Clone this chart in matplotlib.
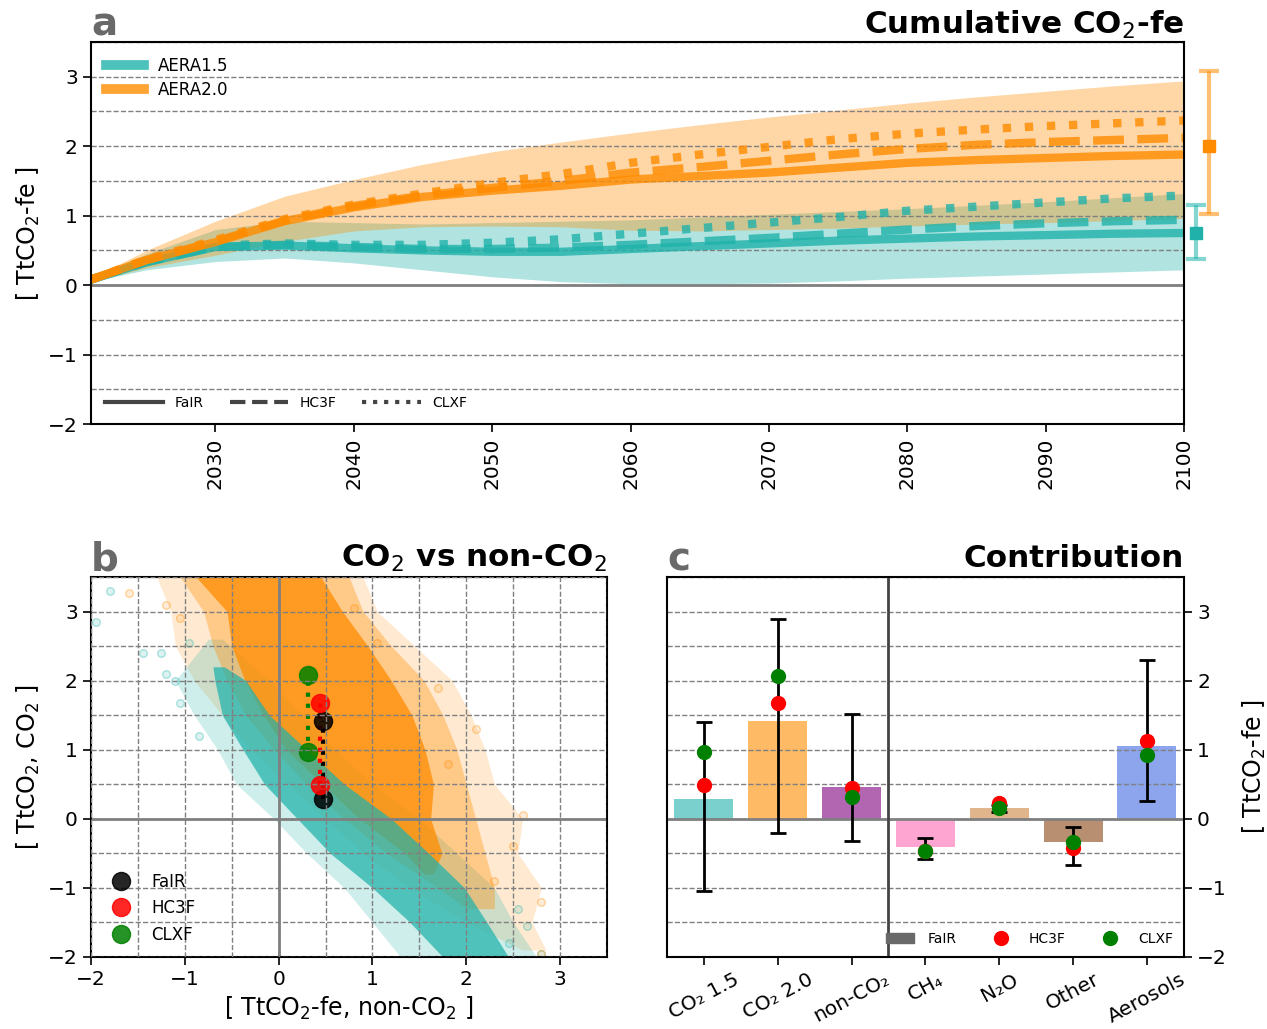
import numpy as np
import matplotlib
matplotlib.use("Agg")
import matplotlib.pyplot as plt
from matplotlib.lines import Line2D
from matplotlib.patches import Patch

# ---------------- data: panel a ----------------
years = [2021, 2025, 2030, 2035, 2040, 2045, 2050, 2055, 2060, 2065, 2070,
         2075, 2080, 2085, 2090, 2095, 2100]
a15_fair = [0.08, 0.33, 0.55, 0.57, 0.53, 0.50, 0.48, 0.48, 0.52, 0.56, 0.60,
            0.64, 0.67, 0.70, 0.72, 0.74, 0.75]
a15_hc3f = [0.08, 0.33, 0.55, 0.58, 0.55, 0.52, 0.52, 0.54, 0.58, 0.63, 0.68,
            0.74, 0.80, 0.85, 0.89, 0.92, 0.94]
a15_clxf = [0.08, 0.34, 0.57, 0.60, 0.58, 0.58, 0.61, 0.66, 0.74, 0.82, 0.90,
            0.98, 1.07, 1.13, 1.19, 1.25, 1.29]
a20_fair = [0.08, 0.36, 0.62, 0.92, 1.12, 1.27, 1.36, 1.43, 1.52, 1.57, 1.62,
            1.69, 1.76, 1.80, 1.83, 1.86, 1.88]
a20_hc3f = [0.08, 0.36, 0.63, 0.93, 1.14, 1.29, 1.40, 1.50, 1.62, 1.70, 1.79,
            1.88, 1.96, 2.02, 2.06, 2.09, 2.12]
a20_clxf = [0.08, 0.37, 0.65, 0.95, 1.16, 1.32, 1.47, 1.60, 1.76, 1.88, 1.99,
            2.10, 2.18, 2.24, 2.29, 2.33, 2.37]
a15_lo = [0.05, 0.22, 0.34, 0.39, 0.32, 0.22, 0.12, 0.05, 0.02, 0.02, 0.03,
          0.06, 0.10, 0.13, 0.16, 0.19, 0.22]
a15_hi = [0.10, 0.45, 0.80, 0.92, 0.90, 0.88, 0.90, 0.92, 0.94, 0.98, 1.02,
          1.06, 1.10, 1.15, 1.20, 1.26, 1.32]
a20_lo = [0.05, 0.25, 0.43, 0.63, 0.78, 0.84, 0.85, 0.84, 0.79, 0.78, 0.80,
          0.82, 0.85, 0.88, 0.90, 0.93, 0.96]
a20_hi = [0.10, 0.50, 0.92, 1.28, 1.52, 1.74, 1.92, 2.06, 2.19, 2.31, 2.42,
          2.52, 2.62, 2.71, 2.79, 2.87, 2.94]
side_center = [0.75, 2.00]
side_low = [0.38, 1.03]
side_high = [1.16, 3.08]
year_ticks = [2030, 2040, 2050, 2060, 2070, 2080, 2090, 2100]

# ---------------- data: panel b (cloud outlines) ----------------
or_y = [3.5, 3.0, 2.5, 2.0, 1.5, 1.0, 0.5, 0.0, -0.5, -0.8]
or_core_l = [-0.88, -0.55, -0.50, -0.36, -0.16, 0.08, 0.47, 0.86, 1.35, 1.55]
or_core_r = [0.45, 0.68, 0.95, 1.20, 1.42, 1.56, 1.65, 1.62, 1.74, 1.65]
or_my = [3.5, 3.0, 2.5, 2.0, 1.5, 1.0, 0.5, 0.0, -0.5, -1.0, -1.3]
or_mid_l = [-1.05, -0.80, -0.70, -0.55, -0.35, -0.05, 0.30, 0.70, 1.15, 1.70, 2.00]
or_mid_r = [0.75, 0.90, 1.20, 1.55, 1.75, 1.90, 2.00, 2.10, 2.20, 2.30, 2.30]
or_oy = [3.5, 3.0, 2.5, 2.0, 1.5, 1.0, 0.5, 0.0, -0.5, -1.0, -1.5, -1.9]
or_out_l = [-1.30, -1.15, -1.10, -0.90, -0.60, -0.30, 0.10, 0.50, 0.90, 1.40, 2.00, 2.60]
or_out_r = [0.90, 1.05, 1.45, 1.85, 2.05, 2.20, 2.30, 2.60, 2.55, 2.80, 2.70, 2.85]
te_y = [2.2, 2.0, 1.5, 1.0, 0.5, 0.0, -0.5, -1.0, -1.5, -2.0]
te_core_l = [-0.70, -0.68, -0.60, -0.38, -0.15, 0.20, 0.55, 1.00, 1.40, 1.75]
te_core_r = [-0.58, -0.35, -0.10, 0.30, 0.70, 1.20, 1.60, 1.98, 2.22, 2.45]
te_oy = [2.6, 2.0, 1.5, 1.0, 0.5, 0.0, -0.5, -1.0, -1.5, -2.0]
te_out_l = [-0.75, -1.10, -0.90, -0.65, -0.45, -0.05, 0.30, 0.70, 1.00, 1.30]
te_out_r = [-0.60, -0.10, 0.25, 0.60, 1.00, 1.50, 1.90, 2.30, 2.50, 2.75]
te_pts_x = [-1.80, -1.95, -1.45, -1.20, -1.05, -0.85, -1.10, -1.25, -0.95, 2.55, 2.45, 2.80, 2.65]
te_pts_y = [3.30, 2.85, 2.40, 2.10, 1.67, 1.20, 2.00, 2.40, 2.55, -1.30, -1.80, -1.95, -1.55]
or_pts_x = [-1.60, -1.20, 0.80, 1.05, 1.70, 2.10, 2.60, 2.80, 2.80, 2.50, 2.30, -1.05, 1.80]
or_pts_y = [3.27, 3.10, 3.05, 2.55, 1.90, 1.30, 0.05, -1.20, -1.95, -0.40, -0.90, 2.90, 0.80]

# model central estimates (shared by b and c)
models = ["FaIR", "HC3F", "CLXF"]
model_colors = ["black", "red", "green"]
co2_15 = [0.28, 0.49, 0.97]
co2_20 = [1.41, 1.68, 2.08]
nonco2 = [0.47, 0.44, 0.31]

# ---------------- data: panel c ----------------
cats = ["CO₂ 1.5", "CO₂ 2.0", "non-CO₂", "CH₄", "N₂O", "Other", "Aerosols"]
fair_vals = [0.28, 1.41, 0.46, -0.41, 0.15, -0.34, 1.06]
hc3f_vals = [0.49, 1.68, 0.44, -0.46, 0.23, -0.42, 1.12]
clxf_vals = [0.97, 2.07, 0.31, -0.46, 0.16, -0.33, 0.93]
err_low = [-1.05, -0.21, -0.32, -0.58, 0.10, -0.67, 0.26]
err_high = [1.40, 2.89, 1.51, -0.28, 0.20, -0.125, 2.30]
bar_colors = ["lightseagreen", "darkorange", "purple", "hotpink", "peru",
              "saddlebrown", "royalblue"]

TEAL = "lightseagreen"
ORANGE = "darkorange"

fig = plt.figure(figsize=(12.67, 10.29), dpi=100)
axa = fig.add_axes([0.0718, 0.5879, 0.8627, 0.3713])
axb = fig.add_axes([0.0718, 0.0700, 0.4073, 0.3693])
axc = fig.add_axes([0.5264, 0.0700, 0.4080, 0.3693])

for ax in (axa, axb, axc):
    ax.tick_params(labelsize=14.5, length=6, width=1.2)
    for s in ax.spines.values():
        s.set_linewidth(1.5)

# ---------------- panel a ----------------
axa.set_yticks(np.arange(-2, 3.6, 0.5), minor=True)
axa.tick_params(axis="y", which="minor", length=0)
axa.grid(axis="y", which="both", ls="--", color="gray", lw=1)
axa.axhline(0, color="gray", lw=2)
axa.fill_between(years, a15_lo, a15_hi, color=TEAL, alpha=0.35, lw=0)
for vals, ls in ((a15_fair, "-"), (a15_hc3f, "--"), (a15_clxf, ":")):
    axa.plot(years, vals, color=TEAL, ls=ls, lw=6, alpha=0.8)
axa.fill_between(years, a20_lo, a20_hi, color=ORANGE, alpha=0.35, lw=0)
for vals, ls in ((a20_fair, "-"), (a20_hc3f, "--"), (a20_clxf, ":")):
    axa.plot(years, vals, color=ORANGE, ls=ls, lw=6, alpha=0.8)

for xpos, i, col in ((2100.9, 0, TEAL), (2101.8, 1, ORANGE)):
    eb = axa.errorbar([xpos], [side_center[i]],
                      yerr=[[side_center[i] - side_low[i]], [side_high[i] - side_center[i]]],
                      fmt="none", ecolor=col, elinewidth=3, capsize=7, capthick=3,
                      alpha=0.55)
    for art in list(eb.lines[1]) + list(eb.lines[2]):
        art.set_clip_on(False)
    axa.plot([xpos], [side_center[i]], marker="s", color=col, ms=9, clip_on=False)

axa.set_xlim(2021, 2100)
axa.set_ylim(-2, 3.5)
axa.set_yticks([-2, -1, 0, 1, 2, 3])
axa.set_xticks(year_ticks)
axa.set_xticklabels([str(y) for y in year_ticks], rotation=90)
axa.set_ylabel("[ TtCO$_2$-fe ]", fontsize=17)
axa.set_title("Cumulative CO$_2$-fe", loc="right", fontweight="bold", fontsize=22.3, pad=6)
axa.text(0.0, 1.016, "a", transform=axa.transAxes, fontsize=28, fontweight="bold",
         color="dimgray", va="baseline", ha="left")

leg1 = axa.legend(handles=[Line2D([], [], color=TEAL, lw=7, alpha=0.8),
                           Line2D([], [], color=ORANGE, lw=7, alpha=0.8)],
                  labels=["AERA1.5", "AERA2.0"], loc="upper left", frameon=False,
                  fontsize=12, handlelength=2.3, labelspacing=0.35,
                  borderaxespad=0.5)
axa.add_artist(leg1)
axa.legend(handles=[Line2D([], [], color="#444444", lw=3, ls=s) for s in ("-", "--", ":")],
           labels=models, loc="lower left", ncol=3, frameon=False, fontsize=10,
           handlelength=4.2, columnspacing=1.9, borderaxespad=0.6)

# ---------------- panel b ----------------
axb.set_xticks(np.arange(-2, 3.6, 0.5), minor=True)
axb.set_yticks(np.arange(-2, 3.6, 0.5), minor=True)
axb.tick_params(which="minor", length=0)
axb.grid(which="both", ls="--", color="gray", lw=1)
axb.set_axisbelow(False)
axb.fill_betweenx(or_oy, or_out_l, or_out_r, color=ORANGE, alpha=0.18, lw=0)
axb.fill_betweenx(te_oy, te_out_l, te_out_r, color=TEAL, alpha=0.22, lw=0)
axb.fill_betweenx(or_my, or_mid_l, or_mid_r, color=ORANGE, alpha=0.35, lw=0)
axb.fill_betweenx(or_y, or_core_l, or_core_r, color=ORANGE, alpha=0.75, lw=0)
axb.fill_betweenx(te_y, te_core_l, te_core_r, color=TEAL, alpha=0.72, lw=0)
axb.scatter(te_pts_x, te_pts_y, s=30, facecolor=(0.13, 0.7, 0.67, 0.15),
            edgecolor=(0.13, 0.7, 0.67, 0.35))
axb.scatter(or_pts_x, or_pts_y, s=30, facecolor=(1, 0.55, 0, 0.15),
            edgecolor=(1, 0.55, 0, 0.35))
axb.axhline(0, color="gray", lw=2)
axb.axvline(0, color="gray", lw=2)
for i in range(3):
    axb.plot([nonco2[i], nonco2[i]], [co2_15[i], co2_20[i]], ls=":", lw=3,
             color=model_colors[i])
for i in range(3):
    axb.plot([nonco2[i], nonco2[i]], [co2_15[i], co2_20[i]], ls="", marker="o",
             ms=13, color=model_colors[i], alpha=0.85)
axb.set_xlim(-2, 3.5)
axb.set_ylim(-2, 3.5)
axb.set_xticks([-2, -1, 0, 1, 2, 3])
axb.set_yticks([-2, -1, 0, 1, 2, 3])
axb.set_xlabel("[ TtCO$_2$-fe, non-CO$_2$ ]", fontsize=17)
axb.set_ylabel("[ TtCO$_2$, CO$_2$ ]", fontsize=17)
axb.set_title("CO$_2$ vs non-CO$_2$", loc="right", fontweight="bold", fontsize=22.3, pad=7)
axb.text(0.0, 1.018, "b", transform=axb.transAxes, fontsize=28, fontweight="bold",
         color="dimgray", va="baseline", ha="left")
axb.legend(handles=[Line2D([], [], ls="", marker="o", ms=13, color=c, alpha=0.85)
                    for c in model_colors],
           labels=models, loc="lower left", frameon=False, fontsize=12,
           labelspacing=0.5, handletextpad=0.8, borderaxespad=0.4)

# ---------------- panel c ----------------
xpos = np.arange(len(cats))
axc.set_yticks(np.arange(-2, 3.6, 0.5), minor=True)
axc.tick_params(axis="y", which="minor", length=0)
axc.grid(axis="y", which="both", ls="--", color="gray", lw=1)
axc.bar(xpos, fair_vals, width=0.8, color=bar_colors, alpha=0.6)
axc.axhline(0, color="gray", lw=2)
axc.axvline(2.5, color="#444444", lw=2)
mid = [(lo + hi) / 2 for lo, hi in zip(err_low, err_high)]
half = [(hi - lo) / 2 for lo, hi in zip(err_low, err_high)]
axc.errorbar(xpos, mid, yerr=half, fmt="none", ecolor="black", elinewidth=2,
             capsize=6, capthick=2)
axc.plot(xpos, hc3f_vals, ls="", marker="o", ms=10, color="red")
axc.plot(xpos, clxf_vals, ls="", marker="o", ms=10, color="green")
axc.set_xlim(-0.5, 6.5)
axc.set_ylim(-2, 3.5)
axc.set_xticks(xpos)
axc.set_xticklabels(cats, rotation=28, ha="center")
axc.yaxis.tick_right()
axc.yaxis.set_label_position("right")
axc.set_yticks([-2, -1, 0, 1, 2, 3])
axc.set_ylabel("[ TtCO$_2$-fe ]", fontsize=17, labelpad=10)
axc.set_title("Contribution", loc="right", fontweight="bold", fontsize=22.3, pad=7)
axc.text(0.0, 1.018, "c", transform=axc.transAxes, fontsize=28, fontweight="bold",
         color="dimgray", va="baseline", ha="left")
axc.legend(handles=[Patch(color="dimgray"),
                    Line2D([], [], ls="", marker="o", ms=10, color="red"),
                    Line2D([], [], ls="", marker="o", ms=10, color="green")],
           labels=models, loc="lower right", ncol=3, frameon=False, fontsize=10,
           columnspacing=2.2, handletextpad=1.0, borderaxespad=0.4)

fig.savefig("out.png", dpi=100)
